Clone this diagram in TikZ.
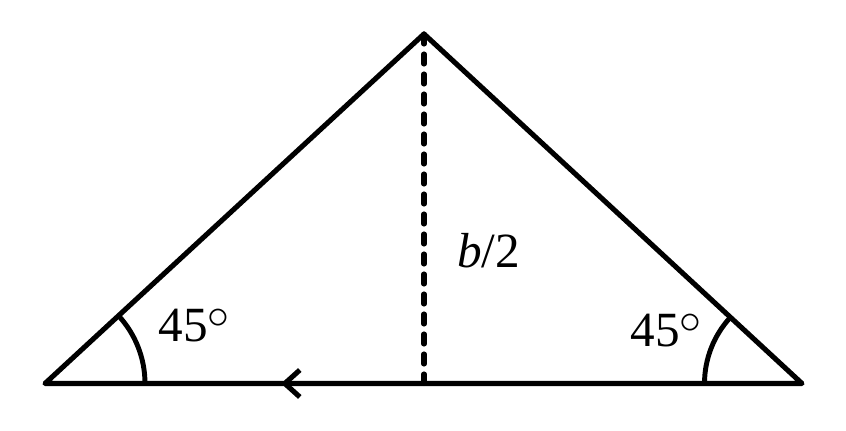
\documentclass[tikz,border=0pt]{standalone}
\usepackage{fontspec}
\setmainfont{Liberation Serif}
\usepackage{tkz-euclide}
\usetikzlibrary{arrows.meta}

\newcommand{\degsign}{\raisebox{0.26em}[0pt][0pt]{\fontsize{28}{28}\selectfont$\circ$}}

\begin{document}
\begin{tikzpicture}
    \useasboundingbox (0,0) rectangle (16.92,8.6);
    \tkzDefPoint(0.90,0.93){L}
    \tkzDefPoint(16.04,0.93){R}
    \tkzDefPoint(8.48,7.92){T}
    \tkzDefPoint(8.48,0.93){H}
    \tkzDefPoint(5.62,0.93){P}
    \tkzDrawPolygon[line width=2.9pt](L,R,T)
    \tkzDrawSegment[line width=2.9pt,dash pattern=on 0.2cm off 0.2cm](T,H)
    \tkzDrawSegment[line width=2.9pt,-{Straight Barb[length=3mm,width=5.4mm]}](H,P)
    \tkzMarkAngle[size=2,line width=2.8pt](R,L,T)
    \tkzMarkAngle[size=1.95,line width=2.8pt](T,R,L)
    \tkzLabelAngle[pos=3.2](R,L,T){\fontsize{28}{30}\selectfont 45\degsign}
    \tkzLabelAngle[pos=2.92](T,R,L){\fontsize{28}{30}\selectfont 45\degsign}
    \tkzLabelSegment[pos=0.62,right=0.5cm](T,H){\fontsize{28}{30}\selectfont\textit{b}/2}
  \end{tikzpicture}
\end{document}
